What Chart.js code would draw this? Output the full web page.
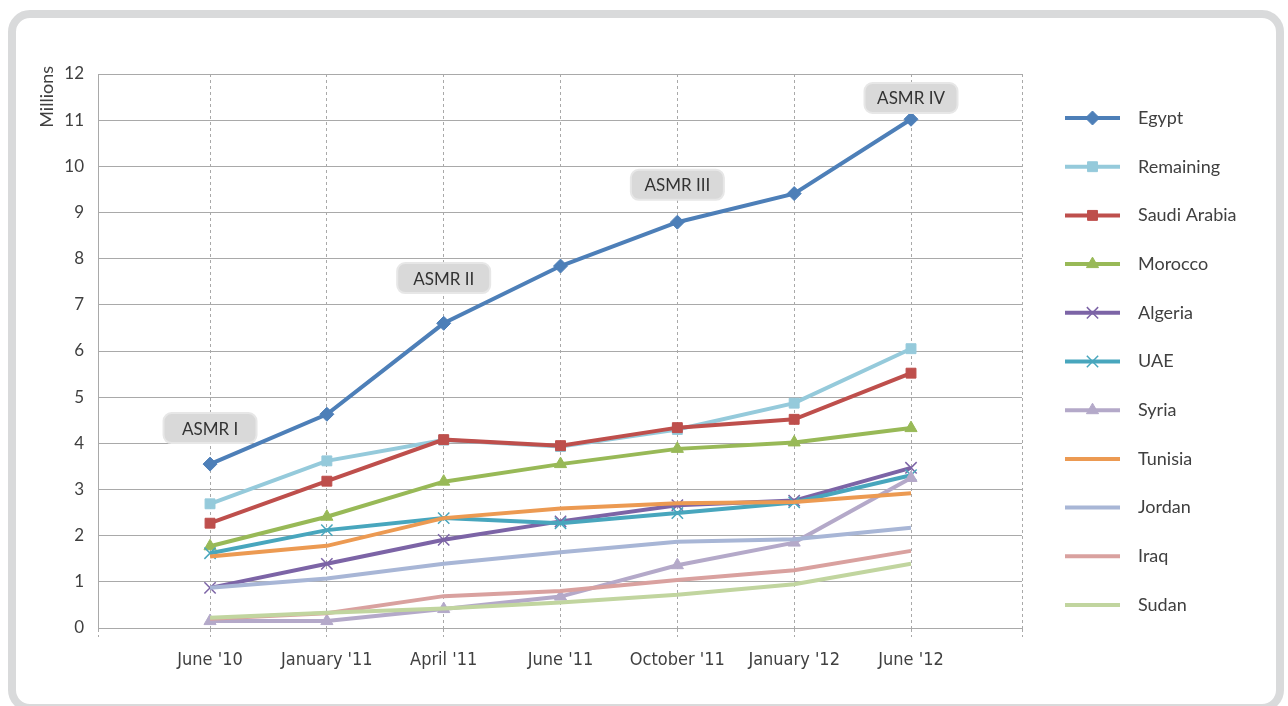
<!DOCTYPE html>
<html>
<head>
<meta charset="utf-8">
<script src="https://cdn.jsdelivr.net/npm/chart.js@4.4.1/dist/chart.umd.min.js"></script>
<style>
  html, body { margin: 0; padding: 0; background: #fff; }
  #wrap { position: relative; width: 1288px; height: 706px; overflow: hidden; }
  #frame { position: absolute; left: 8px; top: 10px; width: 1260px; height: 686px;
           border: 8px solid #d9dadb; border-radius: 22px; }
  canvas { position: absolute; left: 0; top: 0; }
</style>
</head>
<body>
<div id="wrap">
  <div id="frame"></div>
  <canvas id="c" width="1288" height="706"></canvas>
</div>
<script>
// categories
const periods = ["June '10", "January '11", "April '11", "June '11", "October '11", "January '12", "June '12"];
const countries = ['Egypt', 'Remaining', 'Saudi Arabia', 'Morocco', 'Algeria', 'UAE', 'Syria', 'Tunisia', 'Jordan', 'Iraq', 'Sudan'];

// subscribers, millions
const egypt       = [3.55, 4.63, 6.60, 7.84, 8.79, 9.41, 11.02];
const remaining   = [2.69, 3.62, 4.07, 3.93, 4.30, 4.87, 6.05];
const saudiArabia = [2.27, 3.18, 4.08, 3.95, 4.34, 4.52, 5.52];
const morocco     = [1.77, 2.41, 3.17, 3.55, 3.88, 4.02, 4.33];
const algeria     = [0.87, 1.39, 1.91, 2.31, 2.66, 2.76, 3.47];
const uae         = [1.62, 2.12, 2.38, 2.27, 2.49, 2.72, 3.31];
const syria       = [0.15, 0.15, 0.41, 0.68, 1.36, 1.85, 3.25];
const tunisia     = [1.55, 1.78, 2.38, 2.59, 2.70, 2.73, 2.92];
const jordan      = [0.87, 1.07, 1.39, 1.64, 1.87, 1.92, 2.17];
const iraq        = [0.20, 0.32, 0.69, 0.80, 1.04, 1.25, 1.67];
const sudan       = [0.22, 0.33, 0.42, 0.55, 0.72, 0.95, 1.39];
const seriesValues = [egypt, remaining, saudiArabia, morocco, algeria, uae, syria, tunisia, jordan, iraq, sudan];

// y axis ticks
const yTicks = [0, 1, 2, 3, 4, 5, 6, 7, 8, 9, 10, 11, 12];

// ASMR callouts (period number, level in millions)
const asmrLabels = ['ASMR I', 'ASMR II', 'ASMR III', 'ASMR IV'];
const asmrPeriod = [1, 3, 5, 7];
const asmrLevel  = [4.33, 7.58, 9.6, 11.48];

const colors  = ['#4d7fb8', '#95cadb', '#be4f4c', '#98b957', '#7c64a6', '#48a6bd', '#b4a9c9', '#ec9a52', '#a8b6d6', '#d9a19f', '#c1d59f'];
const markers = ['rectRot', 'rect', 'rect', 'triangle', 'crossRot', 'crossRot', 'triangle', false, false, false, false];
const mSize   = { rectRot: 7, rect: 7, triangle: 7, crossRot: 8 };

const gridGray = '#a9a9a9';
const textGray = '#404040';
const serif = "Lato, 'Open Sans', sans-serif";

const overlay = {
  id: 'overlay',
  afterDatasetsDraw(chart) {
    const { ctx, scales: { x, y } } = chart;
    ctx.save();
    asmrLabels.forEach((t, i) => {
      const cx = x.getPixelForValue(asmrPeriod[i]);
      const cy = y.getPixelForValue(asmrLevel[i]);
      const w = 93, h = 30;
      ctx.beginPath();
      ctx.roundRect(cx - w / 2, cy - h / 2, w, h, 8);
      ctx.fillStyle = '#d9d9d9';
      ctx.fill();
      ctx.lineWidth = 2;
      ctx.strokeStyle = '#e7e7e7';
      ctx.stroke();
      ctx.fillStyle = '#333';
      ctx.font = '17px ' + serif;
      ctx.textAlign = 'center';
      ctx.textBaseline = 'middle';
      ctx.fillText(t, cx, cy + 1);
    });
    ctx.restore();
  },
  afterDraw(chart) {
    const { ctx, chartArea } = chart;
    ctx.save();
    // y title
    ctx.translate(chartArea.left - 51, chartArea.top - 8);
    ctx.rotate(-Math.PI / 2);
    ctx.fillStyle = textGray;
    ctx.font = '18px ' + serif;
    ctx.textAlign = 'right';
    ctx.textBaseline = 'middle';
    ctx.fillText('Millions', 0, 0);
    ctx.restore();

    // legend
    const lx = chartArea.right + 43, ly = chartArea.top + 44, step = 48.7;
    chart.data.datasets.forEach((ds, i) => {
      const yy = ly + i * step;
      ctx.save();
      ctx.strokeStyle = ds.borderColor;
      ctx.lineWidth = 4;
      ctx.beginPath();
      ctx.moveTo(lx, yy);
      ctx.lineTo(lx + 55, yy);
      ctx.stroke();
      if (ds.pointStyle) {
        ctx.fillStyle = ds.pointBackgroundColor;
        ctx.strokeStyle = ds.pointBorderColor;
        ctx.lineWidth = ds.pointBorderWidth;
        Chart.helpers.drawPoint(ctx, { pointStyle: ds.pointStyle, radius: ds.pointRadius, borderWidth: ds.pointBorderWidth, rotation: 0 }, lx + 27.5, yy);
      }
      ctx.fillStyle = textGray;
      ctx.font = '18px ' + serif;
      ctx.textAlign = 'left';
      ctx.textBaseline = 'middle';
      ctx.fillText(ds.label, lx + 73, yy);
      ctx.restore();
    });
  }
};

new Chart(document.getElementById('c'), {
  type: 'line',
  data: {
    datasets: countries.map((name, i) => ({
      label: name,
      data: seriesValues[i].map((v, k) => ({ x: k + 1, y: v })),
      borderColor: colors[i],
      backgroundColor: colors[i],
      borderWidth: 4,
      tension: 0,
      fill: false,
      pointStyle: markers[i],
      pointRadius: markers[i] ? mSize[markers[i]] : 0,
      pointHoverRadius: markers[i] ? mSize[markers[i]] : 0,
      pointBackgroundColor: colors[i],
      pointBorderColor: colors[i],
      pointBorderWidth: markers[i] === 'crossRot' ? 1.5 : 1,
      order: countries.length - i
    }))
  },
  options: {
    responsive: false,
    animation: false,
    devicePixelRatio: 1,
    layout: { padding: { left: 20, top: 74, right: 266, bottom: 18 } },
    plugins: { legend: { display: false }, tooltip: { enabled: false } },
    scales: {
      x: {
        type: 'linear',
        min: 0.041,
        max: 7.95,
        afterBuildTicks: s => {
          s.ticks = [0.041, ...periods.map((p, i) => i + 1), 7.95].map(v => ({ value: v }));
        },
        afterFit: s => { s.height = 60; },
        grid: { color: gridGray, lineWidth: 1, tickLength: 9, tickColor: gridGray, tickBorderDash: [3, 3] },
        border: { display: true, color: gridGray, dash: [3, 3] },
        ticks: {
          autoSkip: false, maxRotation: 0, padding: 13, color: textGray,
          font: { family: "'DejaVu Sans Condensed', 'Open Sans', sans-serif", size: 18 },
          callback: v => periods[v - 1] ?? ''
        }
      },
      y: {
        min: yTicks[0],
        max: yTicks[yTicks.length - 1],
        afterFit: s => { s.width = 78; },
        afterBuildTicks: s => { s.ticks = yTicks.map(v => ({ value: v })); },
        grid: { color: gridGray, lineWidth: 1, drawTicks: false },
        border: { color: gridGray },
        ticks: { padding: 14, color: textGray, font: { family: serif, size: 17 } }
      }
    }
  },
  plugins: [overlay]
});
</script>
</body>
</html>
